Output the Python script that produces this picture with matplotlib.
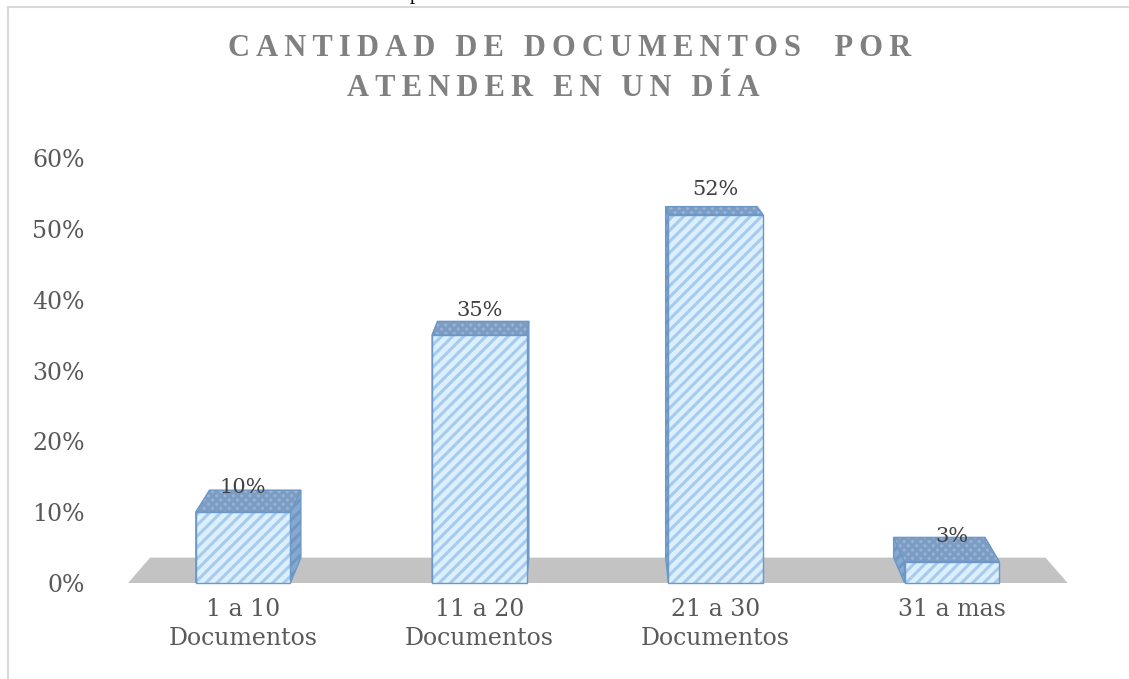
import matplotlib
matplotlib.use("Agg")
import matplotlib.pyplot as plt
from matplotlib.lines import Line2D

# datos del grafico
categorias = ["1 a 10\nDocumentos", "11 a 20\nDocumentos", "21 a 30\nDocumentos", "31 a mas"]
porcentajes = [10, 35, 52, 3]
etiquetas = ["10%", "35%", "52%", "3%"]
marcas_y = [0, 10, 20, 30, 40, 50, 60]
titulo = ["CANTIDAD DE DOCUMENTOS  POR", "ATENDER EN UN DÍA"]

W, H = 1129, 679
fig = plt.figure(figsize=(W / 100, H / 100), dpi=100)
ax = fig.add_axes([125 / W, (H - 583) / H, (1070 - 125) / W, (583 - 158) / H])
ax.set_xlim(-0.5, 3.5)
ax.set_ylim(0, 60)

serif = ["DejaVu Serif"]
gris_txt = "#595959"


# proyeccion simple para el efecto 3D (punto de fuga arriba al centro)
def atras(x, y, fx=0.035, cx=1.47, fy=0.047, vy=76.2):
    return x - fx * (x - cx), y + fy * (vy - y)


def cara(pts, fc, hc, hatch, ec="#6b98c8"):
    xs = [p[0] for p in pts]
    ys = [p[1] for p in pts]
    ax.fill(xs, ys, facecolor=fc, edgecolor="none", clip_on=False, zorder=3)
    if hatch:
        ax.fill(xs, ys, facecolor="none", edgecolor=hc, hatch=hatch, linewidth=0,
                clip_on=False, zorder=3)
    ax.fill(xs, ys, facecolor="none", edgecolor=ec, linewidth=1.0, clip_on=False, zorder=3)


# piso gris
x0, x1 = -0.487, 3.49
piso = [(x0, 0), (x1, 0),
        atras(x1, 0, fx=0.047, cx=1.5), atras(x0, 0, fx=0.047, cx=1.5)]
ax.fill([p[0] for p in piso], [p[1] for p in piso], color="#c3c3c3", lw=0,
        clip_on=False, zorder=1)

plt.rcParams["hatch.linewidth"] = 2.2
ancho = 0.4
for i, v in enumerate(porcentajes):
    xl, xr = i - ancho / 2, i + ancho / 2
    bl, br = atras(xl, 0), atras(xr, 0)
    tl, tr = atras(xl, v), atras(xr, v)
    cara([(xl, 0), (xl, v), tl, bl], "#86a9cf", "#7096c2", "///")
    cara([(xr, 0), (xr, v), tr, br], "#86a9cf", "#7096c2", "///")
    cara([(xl, v), (xr, v), tr, tl], "#97b4d4", "#7c9cc4", "xxxx")
    cara([(xl, 0), (xr, 0), (xr, v), (xl, v)], "#dceffd", "#a6cbec", "///")
    ax.text(i, v + 3.5, etiquetas[i], ha="center", va="center", fontsize=15,
            family=serif, color="#404040", zorder=5)

ax.set_yticks(marcas_y)
ax.set_yticklabels([f"{m}%" for m in marcas_y], family=serif, fontsize=17, color=gris_txt)
ax.set_xticks(range(len(categorias)))
ax.set_xticklabels(categorias, family=serif, fontsize=17, color=gris_txt, linespacing=1.3)
ax.tick_params(axis="y", length=0, pad=29)
ax.tick_params(axis="x", length=0, pad=11)
for s in ax.spines.values():
    s.set_visible(False)
ax.patch.set_visible(False)


# titulo con letras espaciadas
def espaciar(s):
    return "\u2009".join(s)


for k, (linea, xc, yc) in enumerate(zip(titulo, [570, 553], [48, 88])):
    fig.text(xc / W, 1 - yc / H, espaciar(linea), ha="center", va="center",
             fontsize=22, fontweight="bold", color="#808080",
             family=["Liberation Serif", "DejaVu Serif"])

# marco del documento
fig.add_artist(Line2D([8 / W, 1], [1 - 6.5 / H, 1 - 6.5 / H], color="#d9d9d9", lw=1.5))
fig.add_artist(Line2D([8 / W, 8 / W], [0, 1 - 6.5 / H], color="#d9d9d9", lw=1.5))
fig.text(415 / W, 1 + 1 / H, "p", ha="center", va="baseline", fontsize=15,
         family="Liberation Serif", color="black")

fig.savefig("out.png", dpi=100)
